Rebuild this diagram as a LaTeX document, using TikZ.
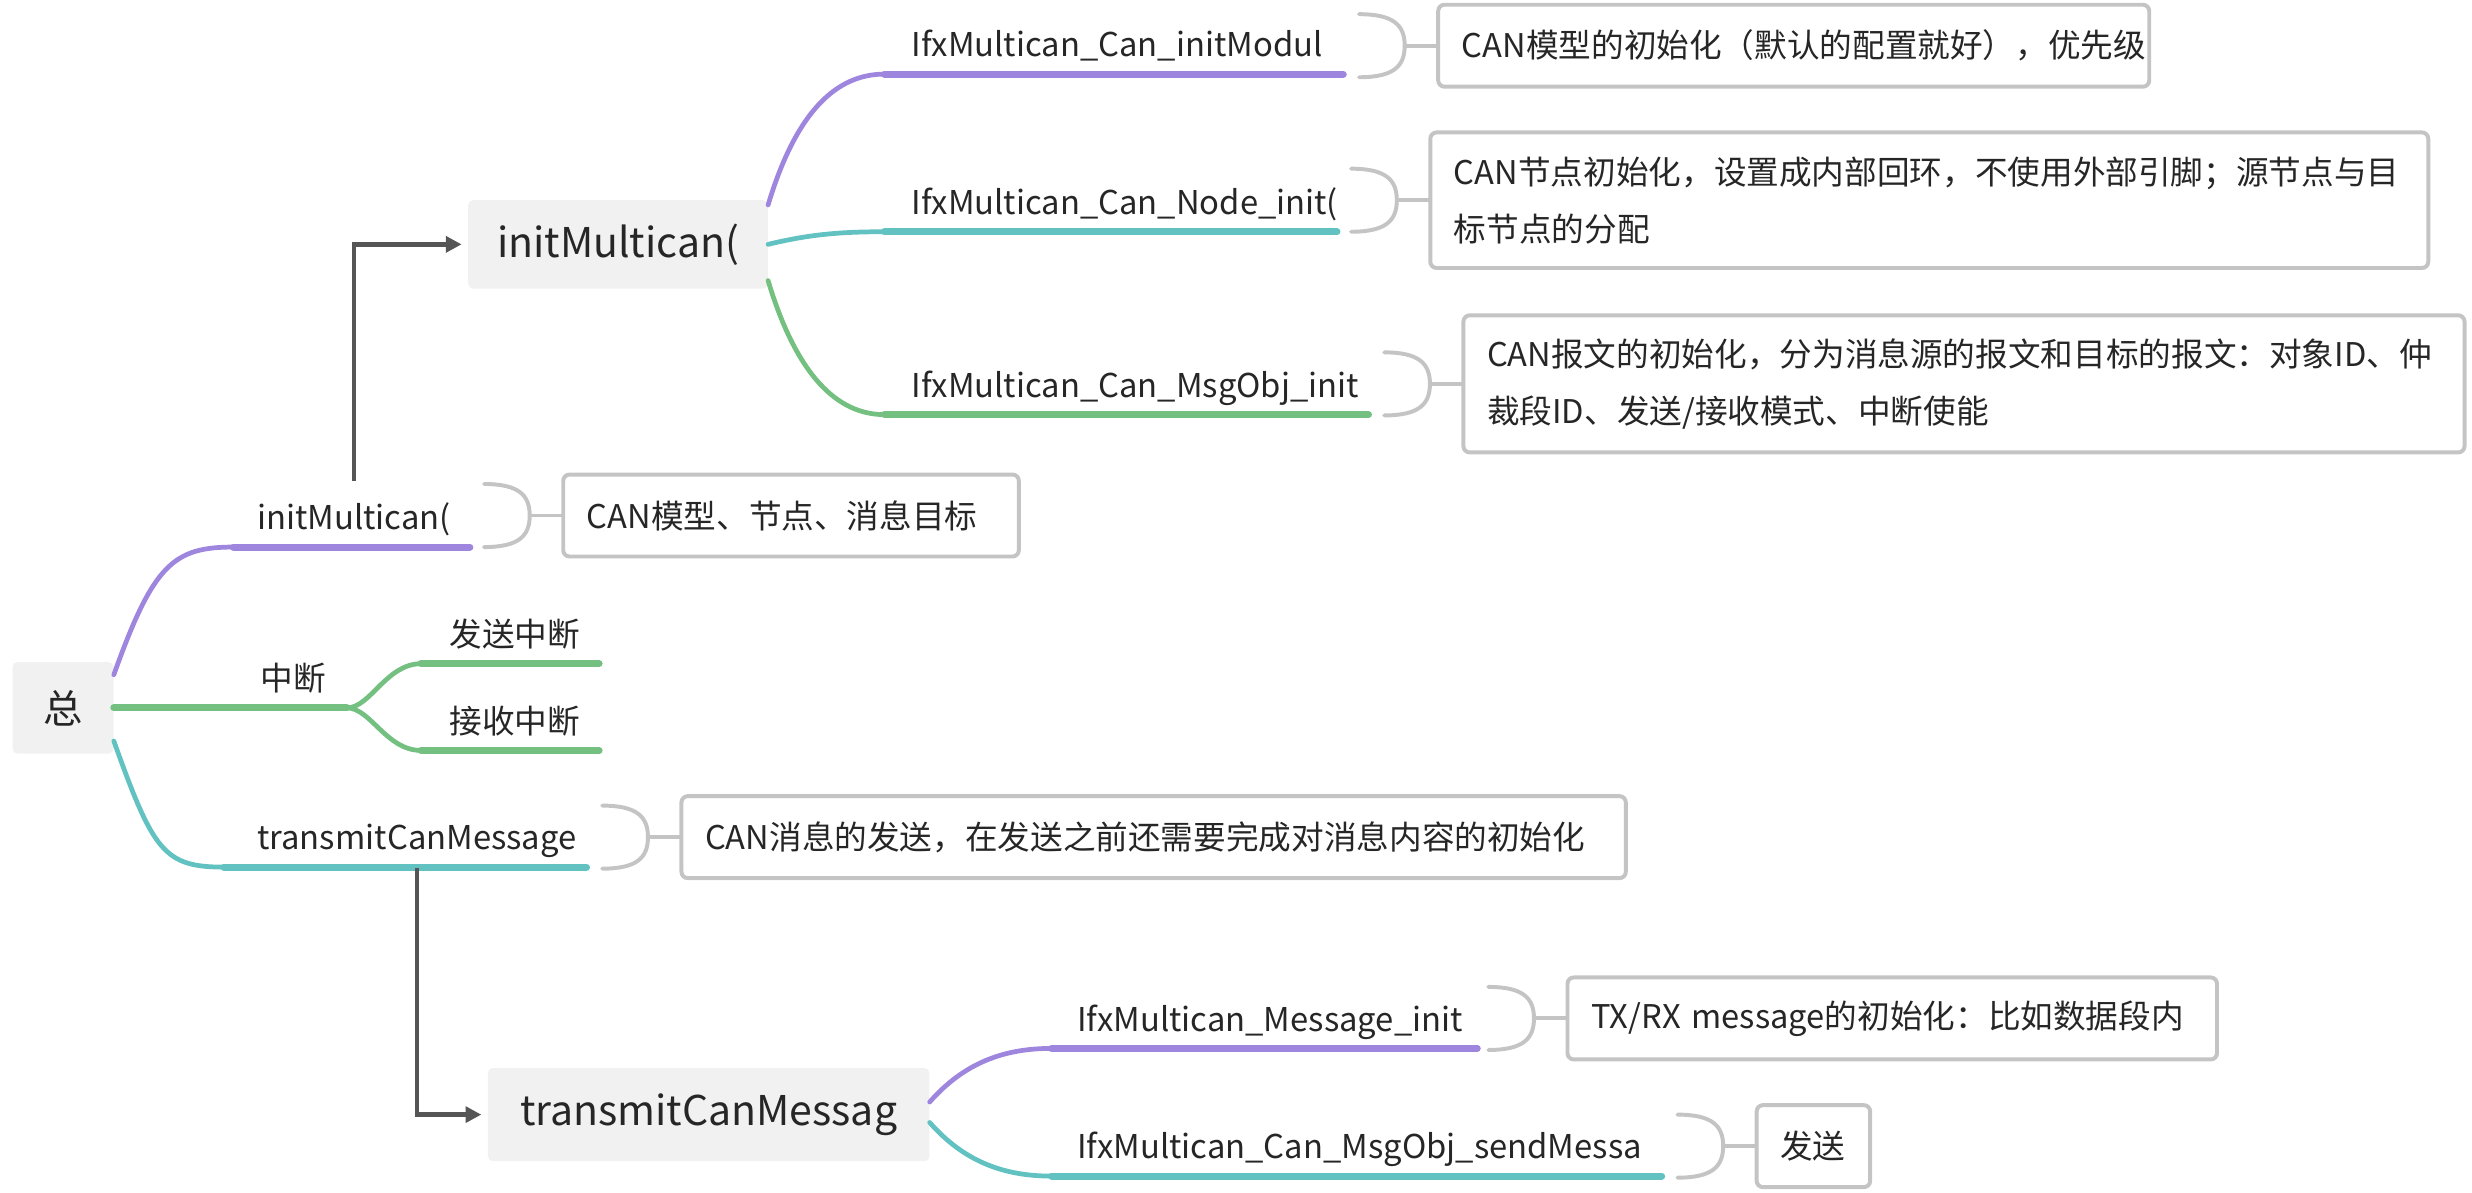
\documentclass[tikz,border=0pt]{standalone}
\usepackage{fontspec}
\setmainfont{Noto Sans CJK SC}
\usepackage{tikz}
\usepackage{xcolor}
\usetikzlibrary{positioning, arrows.meta}
\definecolor{mmpurple}{RGB}{158, 134, 222}
\definecolor{mmteal}{RGB}{98, 193, 193}
\definecolor{mmgreen}{RGB}{115, 192, 128}
\definecolor{mmgray}{RGB}{196, 196, 196}
\definecolor{mmfill}{RGB}{240, 241, 240}
\definecolor{mmlink}{RGB}{85, 85, 85}
\definecolor{mmtext}{RGB}{38, 38, 38}
\tikzset{
    mmnode/.style={rectangle, rounded corners=3pt, fill=mmfill, text=mmtext, inner sep=0pt},
    rootnode/.style={mmnode, minimum width=64pt, minimum height=58pt, font=\fontsize{25}{30}\selectfont},
    topicnode/.style={mmnode, font=\fontsize{26}{32}\selectfont},
    leafnode/.style={text=mmtext, inner sep=2pt, font=\fontsize{20.8}{26}\selectfont},
    cjkleaf/.style={leafnode, font=\fontsize{20.7}{26}\selectfont},
    notenode/.style={draw=mmgray, line width=2.5pt, rounded corners=4pt, fill=white, text=mmtext,
        align=left, inner xsep=15pt, inner ysep=0pt, font=\fontsize{20.7}{36}\selectfont},
    stem/.style={line width=3pt, line cap=round},
    twig/.style={line width=4.5pt, line cap=round},
    bracket/.style={draw=mmgray, line width=2.5pt, line cap=round},
    jump/.style={draw=mmlink, line width=3pt, -{Triangle[length=10pt, width=10pt]}, shorten >=4pt}
}
\newcommand{\notebrace}[1]{%
    \draw[bracket] ([shift={(-49,-20)}]#1.west) .. controls +(22,0) and +(0,-13) .. ([xshift=-20pt]#1.west)
        .. controls +(0,13) and +(22,0) .. ([shift={(-49,20)}]#1.west);
    \draw[bracket] ([xshift=-20pt]#1.west) -- (#1.west);
}

\begin{document}
\begin{tikzpicture}[x=1pt, y=-1pt]
    \useasboundingbox (0,0) rectangle (1568,756.7);

    % root
    \node[rootnode] (root) at (40,449) {总};

    % first level
    \coordinate (initA) at (148,347);
    \coordinate (initB) at (298,347);
    \coordinate (irqA) at (220,449);
    \coordinate (irqTxA) at (267,421);
    \coordinate (irqTxB) at (380,421);
    \coordinate (irqRxA) at (267,476);
    \coordinate (irqRxB) at (380,476);
    \coordinate (transA) at (142,550);
    \coordinate (transB) at (372,550);

    \node[leafnode, anchor=base west] (initlbl) at (161,336) {initMultican(};
    \node[cjkleaf, anchor=base west] (irqlbl) at (163,438) {中断};
    \node[cjkleaf, anchor=base west] (txlbl) at (283,410) {发送中断};
    \node[cjkleaf, anchor=base west] (rxlbl) at (283,465) {接收中断};
    \node[leafnode, anchor=base west] (translbl) at (161,539) {transmitCanMessage};

    \draw[stem, mmpurple] ([yshift=21pt]root.east) .. controls +(25,-70) and +(-38,0) .. (initA);
    \draw[twig, mmpurple] (initA) -- (initB);
    \draw[twig, mmgreen] (root.east) -- (irqA);
    \draw[stem, mmgreen] (irqA) .. controls +(15,0) and +(-22,0) .. (irqTxA);
    \draw[twig, mmgreen] (irqTxA) -- (irqTxB);
    \draw[stem, mmgreen] (irqA) .. controls +(15,0) and +(-22,0) .. (irqRxA);
    \draw[twig, mmgreen] (irqRxA) -- (irqRxB);
    \draw[stem, mmteal] ([yshift=-21pt]root.east) .. controls +(25,70) and +(-38,0) .. (transA);
    \draw[twig, mmteal] (transA) -- (transB);

    \node[notenode, text width=259pt, minimum height=52pt, anchor=west] (initnote) at (356,327) {CAN模型、节点、消息目标};
    \notebrace{initnote}
    \node[notenode, text width=569pt, minimum height=52pt, anchor=west] (transnote) at (431,531) {CAN消息的发送，在发送之前还需要完成对消息内容的初始化};
    \notebrace{transnote}

    % initMultican(
    \node[topicnode, minimum width=190pt, minimum height=56pt] (initbig) at (392,155) {initMultican(};
    \draw[jump] ([yshift=12pt]initlbl.north) |- (initbig.west);

    \coordinate (modA) at (561,47);
    \coordinate (modB) at (852,47);
    \coordinate (nodeA) at (561,147);
    \coordinate (nodeB) at (848,147);
    \coordinate (objA) at (561,263);
    \coordinate (objB) at (868,263);

    \node[leafnode, anchor=base west] (modlbl) at (576,36) {IfxMultican\_Can\_initModul};
    \node[leafnode, anchor=base west] (nodelbl) at (576,136) {IfxMultican\_Can\_Node\_init(};
    \node[leafnode, anchor=base west] (objlbl) at (576,252) {IfxMultican\_Can\_MsgObj\_init};

    \draw[stem, mmpurple] ([yshift=25pt]initbig.east) .. controls +(18,-60) and +(-30,0) .. (modA);
    \draw[twig, mmpurple] (modA) -- (modB);
    \draw[stem, mmteal] (initbig.east) .. controls +(25,-6) and +(-30,0) .. (nodeA);
    \draw[twig, mmteal] (nodeA) -- (nodeB);
    \draw[stem, mmgreen] ([yshift=-23pt]initbig.east) .. controls +(18,60) and +(-30,0) .. (objA);
    \draw[twig, mmgreen] (objA) -- (objB);

    \node[notenode, text width=421pt, minimum height=52pt, anchor=west] (modnote) at (911,29) {CAN模型的初始化（默认的配置就好），优先级};
    \notebrace{modnote}
    \node[notenode, text width=603pt, minimum height=86pt, anchor=west] (nodenote) at (906,127) {CAN节点初始化，设置成内部回环，不使用外部引脚；源节点与目\\标节点的分配};
    \notebrace{nodenote}
    \node[notenode, text width=605pt, minimum height=87pt, anchor=west] (objnote) at (927,243.5) {CAN报文的初始化，分为消息源的报文和目标的报文：对象ID、仲\\裁段ID、发送/接收模式、中断使能};
    \notebrace{objnote}

    % transmitCanMessag
    \node[topicnode, minimum width=280pt, minimum height=59pt] (transbig) at (449.5,707) {transmitCanMessag};
    \draw[jump] ([yshift=-4pt]translbl.south) |- (transbig.west);

    \coordinate (msgA) at (667,665);
    \coordinate (msgB) at (937,665);
    \coordinate (sendA) at (667,746);
    \coordinate (sendB) at (1054,746);

    \node[leafnode, anchor=base west] (msglbl) at (681,654) {IfxMultican\_Message\_init};
    \node[leafnode, anchor=base west] (sendlbl) at (681,735) {IfxMultican\_Can\_MsgObj\_sendMessa};

    \draw[stem, mmpurple] ([yshift=8pt]transbig.east) .. controls +(22,-25) and +(-30,0) .. (msgA);
    \draw[twig, mmpurple] (msgA) -- (msgB);
    \draw[stem, mmteal] ([yshift=-5pt]transbig.east) .. controls +(22,25) and +(-30,0) .. (sendA);
    \draw[twig, mmteal] (sendA) -- (sendB);

    \node[notenode, text width=382pt, minimum height=52pt, anchor=west] (msgnote) at (993,646) {TX/RX message的初始化：比如数据段内};
    \notebrace{msgnote}
    \node[notenode, text width=42pt, minimum height=52pt, anchor=west] (sendnote) at (1113,727) {发送};
    \notebrace{sendnote}
\end{tikzpicture}
\end{document}
